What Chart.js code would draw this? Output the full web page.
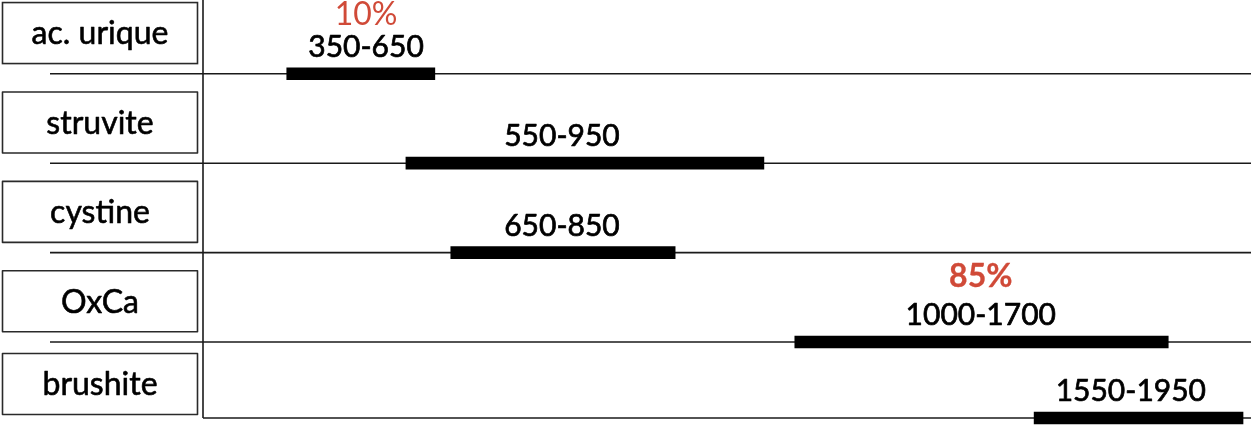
<!DOCTYPE html>
<html><head><meta charset="utf-8">
<script src="https://cdn.jsdelivr.net/npm/chart.js@4.4.1/dist/chart.umd.min.js"></script>
<style>html,body{margin:0;padding:0;background:#fff;}#wrap{width:1251px;height:427px;}</style>
</head><body><div id="wrap"><canvas id="c" width="1251" height="427"></canvas></div>
<script>
// ---- data ----
const categories = ['ac. urique', 'struvite', 'cystine', 'OxCa', 'brushite'];
const barStart = [166, 405, 495, 1185, 1665];
const barEnd = [463, 1123, 945, 1934, 2084];
const rangeLabels = ['350-650', '550-950', '650-850', '1000-1700', '1550-1950'];
const percentLabels = ['10%', '', '', '85%', ''];
const labelAt = [325, 718, 718, 1558, 1859];
const percentBold = [false, false, false, true, false];

const X_MIN = 0, X_MAX = 2100;
const Y_MIN = 0.175, Y_MAX = 4.85;
const rowLevel = i => Math.min(i + 1, Y_MAX);

const FONT = "Lato, 'Open Sans', sans-serif";
const RED = '#d04a38';

function heavyText(ctx, txt, x, y, color, w) {
  ctx.fillStyle = color;
  ctx.strokeStyle = color;
  ctx.lineWidth = w;
  ctx.lineJoin = 'round';
  ctx.fillText(txt, x, y);
  if (w > 0) ctx.strokeText(txt, x, y);
}

const decor = {
  id: 'decor',
  beforeDatasetsDraw(chart) {
    const {ctx, chartArea, scales} = chart;
    const ys = scales.y;
    ctx.save();
    ctx.strokeStyle = '#1a1a1a';
    ctx.lineWidth = 1.6;
    const rows = categories.map((c, i) => ys.getPixelForValue(rowLevel(i)));
    const bottom = rows[rows.length - 1];
    // vertical axis line
    ctx.beginPath();
    ctx.moveTo(chartArea.left - 1, 0);
    ctx.lineTo(chartArea.left - 1, bottom);
    ctx.stroke();
    // row lines
    rows.forEach((y, i) => {
      const x0 = i === rows.length - 1 ? chartArea.left - 1 : 50;
      ctx.beginPath();
      ctx.moveTo(x0, y);
      ctx.lineTo(chartArea.right, y);
      ctx.stroke();
    });
    // category boxes
    const top0 = ys.getPixelForValue(0);
    ctx.font = '32px ' + FONT;
    ctx.textAlign = 'center';
    ctx.textBaseline = 'middle';
    rows.forEach((y, i) => {
      const prev = i === 0 ? top0 : rows[i - 1];
      const cy = (prev + y) / 2 + 4;
      ctx.lineWidth = 1.6;
      ctx.strokeStyle = '#2a2a2a';
      ctx.strokeRect(2.5, cy - 30.5, 195, 61);
      heavyText(ctx, categories[i], 100, cy + 1, '#000', 0.6);
    });
    ctx.restore();
  },
  afterDatasetsDraw(chart) {
    const {ctx, scales} = chart;
    const xs = scales.x, ys = scales.y;
    ctx.save();
    ctx.textAlign = 'center';
    ctx.textBaseline = 'alphabetic';
    categories.forEach((c, i) => {
      const x = xs.getPixelForValue(labelAt[i]);
      const y = ys.getPixelForValue(rowLevel(i));
      ctx.font = '30px ' + FONT;
      heavyText(ctx, rangeLabels[i], x, y - 17, '#000', 0.7);
      if (percentLabels[i]) {
        ctx.font = (percentBold[i] ? 'bold ' : '') + '32px ' + FONT;
        heavyText(ctx, percentLabels[i], x, y - (percentBold[i] ? 55 : 49), RED, percentBold[i] ? 0.3 : 0);
      }
    });
    ctx.restore();
  }
};

new Chart(document.getElementById('c'), {
  type: 'bar',
  data: {
    labels: categories,
    datasets: [{
      data: categories.map((c, i) => ({x: [barStart[i], barEnd[i]], y: rowLevel(i)})),
      backgroundColor: '#000',
      borderWidth: 0,
      barThickness: 12,
      clip: false
    }]
  },
  options: {
    indexAxis: 'y',
    responsive: false,
    animation: false,
    layout: {padding: {left: 204, right: 0, top: 0, bottom: 9}},
    plugins: {legend: {display: false}, tooltip: {enabled: false}},
    scales: {
      x: {type: 'linear', min: X_MIN, max: X_MAX, display: false, offset: false},
      y: {type: 'linear', min: Y_MIN, max: Y_MAX, reverse: true, display: false, offset: false}
    }
  },
  plugins: [decor]
});
</script>
</body></html>
